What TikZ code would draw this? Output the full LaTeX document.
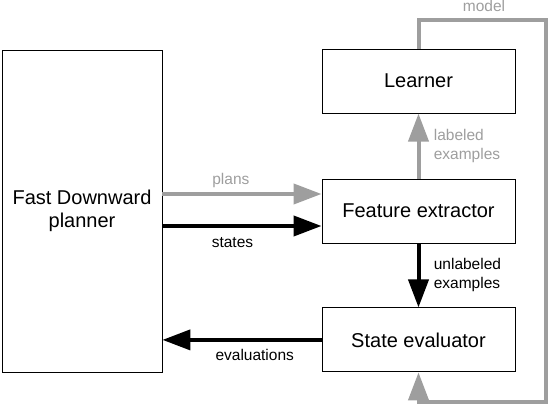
\documentclass[tikz,border=0pt]{standalone}
\usepackage{fontspec}
\setmainfont{Liberation Sans}
\usepackage{xcolor}
\usetikzlibrary{arrows.meta, positioning}
\definecolor{modelgray}{RGB}{158,158,158}

\begin{document}
\begin{tikzpicture}[
  x=1pt, y=-1pt,
  every node/.style={align=center},
  box/.style={draw=black, line width=0.9pt, fill=white, minimum width=193pt,
              minimum height=64pt, font=\fontsize{20}{23}\selectfont},
  planbox/.style={box, minimum width=160pt, minimum height=322pt},
  lbl/.style={font=\fontsize{15.5}{19}\selectfont},
  glbl/.style={lbl, text=modelgray},
  arr/.style={-{Triangle[length=28pt, width=20pt]}, line width=4pt},
  garr/.style={arr, draw=modelgray}
]
\useasboundingbox (0,0) rectangle (550,406);
\node[box] (FE) at (418.5,211) {Feature extractor};
\node[box, above=65pt of FE] (L) {Learner};
\node[box, below=64pt of FE] (SE) {State evaluator};
\node[planbox] (P) at (82,211) {Fast Downward\\planner};
\coordinate (top) at (546,20);
\coordinate (bot) at (546,402);
% planner <-> feature extractor / evaluator
\draw[garr] ([yshift=17pt]P.east) -- node[glbl, above=1pt, pos=0.43] (plans) {plans} ([yshift=17pt]FE.west);
\draw[arr] ([yshift=-15pt]P.east) -- node[lbl, below=6pt, pos=0.44] (states) {states} ([yshift=-15pt]FE.west);
\draw[arr] (SE.west) -- node[lbl, below=4pt, pos=0.42] (evals) {evaluations} (P.east |- SE.west);
% examples
\draw[garr] (FE.north) -- node[glbl, right=10pt, align=left] (lex) {labeled\\examples} (L.south);
\draw[arr] (FE.south) -- node[lbl, right=10pt, align=left] (uex) {unlabeled\\examples} (SE.north);
% model loop
\draw[garr] (L.north) |- (top) -- (bot) -| (SE.south);
\node[glbl, anchor=base, inner sep=0pt] (model) at (484,12) {model};
\end{tikzpicture}
\end{document}
